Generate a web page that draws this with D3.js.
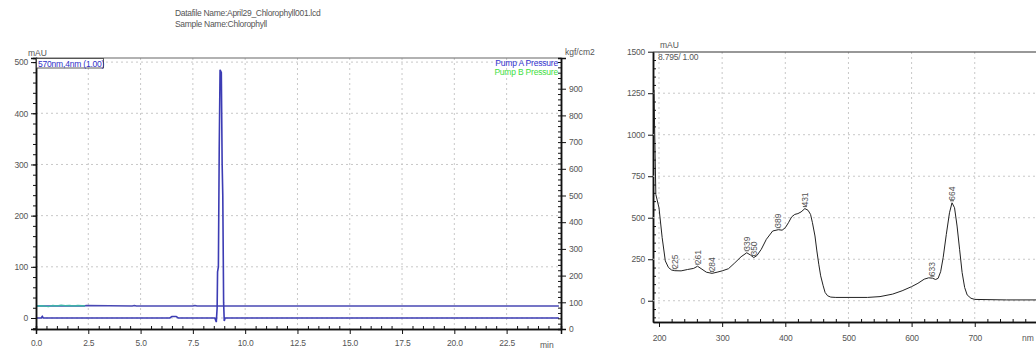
<!DOCTYPE html>
<html>
<head>
<meta charset="utf-8">
<script src="https://cdn.jsdelivr.net/npm/d3@7"></script>
<style>
  body { margin: 0; background: #fff; }
  text { font-family: "Liberation Sans", Arial, sans-serif; }
</style>
</head>
<body>
<svg id="chart" width="1036" height="354"></svg>
<script>
// chromatogram (570nm,4nm)
const chromTime = [0, 0.25, 0.3, 0.35, 6.4, 6.5, 6.7, 6.8, 8.55, 8.62, 8.66, 8.68, 8.72, 8.76, 8.8, 8.86, 8.9, 8.93, 8.97, 9.0, 9.04, 9.1, 25];
const chromAU = [0, 0, 3, 0, 0, 3, 3, 0, 0, -8, 20, 90, 100, 330, 485, 480, 300, 240, 30, -6, 0, 0, 0];

// pump pressures, kgf/cm2
const pumpATime = [0, 2.3, 2.4, 4.6, 4.7, 4.8, 7.5, 7.6, 7.7, 25];
const pumpA = [86, 86, 88, 86, 88, 86, 86, 88, 86, 86];
const pumpBTime = [0, 0.3, 0.6, 0.8, 1.0, 1.2, 1.4, 1.6, 1.8, 2.0, 2.2, 2.35];
const pumpB = [86, 87, 84, 88, 86, 89, 87, 88, 86, 88, 87, 86];

// PDA spectrum at 8.795 min
const specNm = [192, 195, 200, 205, 210, 215, 220, 225, 235, 245, 255, 261, 268, 275, 284, 292, 300, 310, 320, 330, 339, 345, 350, 355, 362, 370, 380, 389, 395, 400, 405, 410, 415, 420, 425, 431, 436, 440, 443, 447, 450, 453, 456, 460, 463, 467, 472, 480, 530, 550, 570, 585, 600, 610, 620, 627, 633, 638, 642, 646, 650, 655, 660, 664, 668, 672, 676, 680, 684, 688, 694, 700, 750, 800];
const specAU = [1270, 640, 560, 380, 240, 200, 185, 181, 180, 188, 195, 208, 190, 172, 165, 172, 180, 193, 228, 265, 289, 275, 260, 272, 310, 370, 420, 428, 425, 440, 470, 505, 520, 525, 535, 555, 545, 520, 470, 390, 300, 220, 150, 90, 50, 30, 22, 20, 20, 25, 40, 60, 85, 105, 130, 138, 136, 128, 135, 175, 260, 400, 530, 590, 560, 450, 310, 170, 80, 35, 15, 8, 5, 5];
const peakNm = [225, 261, 284, 339, 350, 389, 431, 633, 664];
const peakAU = [181, 208, 165, 289, 260, 428, 555, 136, 590];

const chromTicks = [0, 2.5, 5, 7.5, 10, 12.5, 15, 17.5, 20, 22.5];
const auTicks = [0, 100, 200, 300, 400, 500];
const kgfTicks = [0, 100, 200, 300, 400, 500, 600, 700, 800, 900];
const nmTicks = [200, 300, 400, 500, 600, 700];
const specTicks = [0, 250, 500, 750, 1000, 1250, 1500];

const svg = d3.select("#chart");
const grey = "#555";
const blue = "#3c3cb4";

svg.append("text").attr("x", 175).attr("y", 16).attr("font-size", 8.5).attr("fill", grey)
  .attr("letter-spacing", -0.3).text("Datafile Name:April29_Chlorophyll001.lcd");
svg.append("text").attr("x", 175).attr("y", 27).attr("font-size", 8.5).attr("fill", grey)
  .attr("letter-spacing", -0.3).text("Sample Name:Chlorophyll");

// ---------- left panel ----------
const L = { x0: 36, x1: 561, y0: 58, y1: 329 };
const x1 = d3.scaleLinear().domain([0, 25.1]).range([L.x0, L.x1]);
const y1 = d3.scaleLinear().domain([-21.5, 508]).range([L.y1, L.y0]);
const y1r = d3.scaleLinear().domain([0, 1015]).range([L.y1, L.y0]);

const g1 = svg.append("g");

// dotted grid
g1.selectAll(".vg").data(chromTicks.slice(1)).enter().append("line")
  .attr("x1", d => x1(d)).attr("x2", d => x1(d)).attr("y1", L.y0).attr("y2", L.y1)
  .attr("stroke", "#c8c8c8").attr("stroke-dasharray", "2,3");
g1.selectAll(".hg").data(auTicks).enter().append("line")
  .attr("x1", L.x0).attr("x2", L.x1).attr("y1", d => y1(d)).attr("y2", d => y1(d))
  .attr("stroke", "#c8c8c8").attr("stroke-dasharray", "2,3");

g1.append("line").attr("x1", L.x0).attr("x2", L.x1).attr("y1", L.y0).attr("y2", L.y0)
  .attr("stroke", "#666").attr("stroke-width", 1.2);

const lineChrom = d3.line().x(d => x1(d[0])).y(d => y1(d[1]));
const lineP = d3.line().x(d => x1(d[0])).y(d => y1r(d[1]));

g1.append("path").datum(pumpATime.map((t, i) => [t, pumpA[i]]))
  .attr("d", lineP).attr("fill", "none").attr("stroke", "#4848b4").attr("stroke-width", 1.6);
g1.append("path").datum(pumpBTime.map((t, i) => [t, pumpB[i]]))
  .attr("d", lineP).attr("fill", "none").attr("stroke", "#3cb4a8").attr("stroke-width", 1.4);
g1.append("path").datum(chromTime.map((t, i) => [t, chromAU[i]]))
  .attr("d", lineChrom).attr("fill", "none").attr("stroke", blue).attr("stroke-width", 1.6);

// axes
g1.append("g").attr("transform", `translate(0,${L.y1})`)
  .call(d3.axisBottom(x1).tickValues(chromTicks).tickFormat(d3.format(".1f")).tickSize(5).tickPadding(6));
g1.append("g").attr("transform", `translate(${L.x0},0)`)
  .call(d3.axisLeft(y1).tickValues(auTicks).tickFormat(d3.format("d")).tickSize(5));
g1.append("g").attr("transform", `translate(${L.x1},0)`)
  .call(d3.axisRight(y1r).tickValues(kgfTicks).tickFormat(d3.format("d")).tickSize(5));

// minor ticks
g1.append("g").attr("transform", `translate(0,${L.y1})`)
  .call(d3.axisTop(x1).tickValues(d3.range(0.5, 25, 0.5).filter(v => Math.abs(v / 2.5 - Math.round(v / 2.5)) > 0.01)).tickFormat("").tickSize(3));
g1.append("g").attr("transform", `translate(${L.x0},0)`)
  .call(d3.axisLeft(y1).tickValues(d3.range(-20, 508, 20)).tickFormat("").tickSize(3));
g1.append("g").attr("transform", `translate(${L.x1},0)`)
  .call(d3.axisLeft(y1r).tickValues(d3.range(20, 1015, 20)).tickFormat("").tickSize(3));

g1.append("text").attr("x", 28).attr("y", 56).attr("font-size", 8.5).attr("fill", grey).text("mAU");
g1.append("text").attr("x", 565).attr("y", 55).attr("font-size", 8.5).attr("fill", grey).text("kgf/cm2");
g1.append("text").attr("x", 540).attr("y", 348).attr("font-size", 8.5).attr("fill", grey).text("min");

g1.append("rect").attr("x", 36.5).attr("y", 58.5).attr("width", 67).attr("height", 9.5)
  .attr("fill", "#fff").attr("stroke", "#333").attr("stroke-width", 0.8);
g1.append("text").attr("x", 38).attr("y", 66.5).attr("font-size", 8.5).attr("fill", "#3030c8")
  .attr("letter-spacing", -0.2).text("570nm,4nm (1.00)");
g1.append("text").attr("x", 558).attr("y", 66).attr("text-anchor", "end").attr("font-size", 8.5)
  .attr("fill", "#3434d0").attr("letter-spacing", -0.2).text("Pump A Pressure");
g1.append("text").attr("x", 558).attr("y", 75).attr("text-anchor", "end").attr("font-size", 8.5)
  .attr("fill", "#40e040").attr("letter-spacing", -0.2).text("Pump B Pressure");

// ---------- right panel ----------
const R = { x0: 653, x1: 1036, y0: 52, y1: 322 };
const x2 = d3.scaleLinear().domain([190.5, 797]).range([R.x0, R.x1]);
const y2 = d3.scaleLinear().domain([-128, 1500]).range([R.y1, 51.7]);

const g2 = svg.append("g");

g2.append("g").attr("transform", `translate(0,${R.y1})`)
  .call(d3.axisBottom(x2).tickValues(nmTicks).tickFormat(d3.format("d")).tickSize(5).tickSizeOuter(0).tickPadding(8));
g2.append("g").attr("transform", `translate(0,${R.y1})`)
  .call(d3.axisTop(x2).tickValues(d3.range(220, 800, 20).filter(v => v % 100 !== 0)).tickFormat("").tickSize(3).tickSizeOuter(0));
g2.append("g").attr("transform", `translate(${R.x0},0)`)
  .call(d3.axisLeft(y2).tickValues(specTicks).tickFormat(d3.format("d")).tickSize(5).tickSizeOuter(0));
g2.append("g").attr("transform", `translate(${R.x0},0)`)
  .call(d3.axisRight(y2).tickValues(d3.range(-100, 1500, 50).filter(v => v % 250 !== 0)).tickFormat("").tickSize(3).tickSizeOuter(0));

const grid2 = g2.append("g");
grid2.selectAll("line.v").data(nmTicks).enter().append("line").attr("class", "v")
  .attr("x1", d => x2(d)).attr("x2", d => x2(d)).attr("y1", R.y0).attr("y2", R.y1)
  .attr("stroke", "#c8c8c8").attr("stroke-dasharray", "2,3");
grid2.selectAll("line.h").data(specTicks.slice(0, -1)).enter().append("line").attr("class", "h")
  .attr("x1", R.x0).attr("x2", R.x1).attr("y1", d => y2(d)).attr("y2", d => y2(d))
  .attr("stroke", "#c8c8c8").attr("stroke-dasharray", "2,3");
g2.append("line").attr("x1", R.x0).attr("x2", R.x1).attr("y1", R.y0).attr("y2", R.y0)
  .attr("stroke", "#333").attr("stroke-width", 1.2);

const lineSpec = d3.line().x(d => x2(d[0])).y(d => y2(d[1]));
g2.append("path").datum(specNm.map((n, i) => [n, specAU[i]]))
  .attr("d", lineSpec).attr("fill", "none").attr("stroke", "#222").attr("stroke-width", 1);

// peak labels
const pk = g2.append("g").selectAll("g").data(peakNm).enter().append("g")
  .attr("transform", (d, i) => `translate(${x2(d)},${y2(peakAU[i]) - 2})`);
pk.append("line").attr("x1", -2).attr("x2", 2).attr("stroke", "#555");
pk.append("text").attr("transform", "rotate(-90)").attr("x", 0).attr("dy", "0.35em")
  .attr("font-size", 8.5).attr("fill", grey).text(d => d);

g2.append("text").attr("x", 660).attr("y", 48).attr("font-size", 8.5).attr("fill", grey).text("mAU");
g2.append("text").attr("x", 658).attr("y", 60).attr("font-size", 8.5).attr("fill", grey)
  .attr("letter-spacing", -0.2).text("8.795/ 1.00");
g2.append("text").attr("x", 1022).attr("y", 341).attr("font-size", 8.5).attr("fill", grey).text("nm");

// axis styling
svg.selectAll(".domain").attr("stroke", "#111").attr("stroke-width", 1.5);
svg.selectAll(".tick line").attr("stroke", "#111");
svg.selectAll(".tick text").attr("font-size", 8.5).attr("fill", grey)
  .attr("font-family", "Liberation Sans, Arial, sans-serif").attr("letter-spacing", -0.2);
</script>
</body>
</html>
